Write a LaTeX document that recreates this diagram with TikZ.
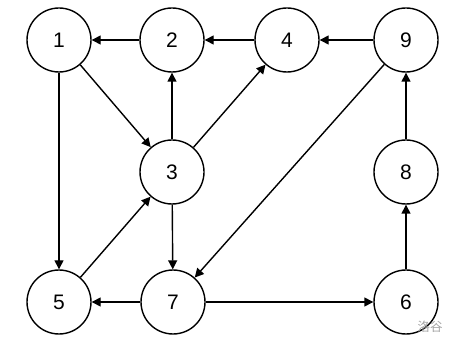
\documentclass[tikz,border=0pt]{standalone}
\usepackage{fontspec}
\setmainfont{Liberation Sans}
\newfontfamily\cjkfont{Noto Sans CJK SC}
\usepackage{xcolor}
\definecolor{graphink}{RGB}{0,0,0}
\definecolor{markgrey}{RGB}{165,165,165}
\usetikzlibrary{arrows.meta}
\tikzset{
  vertex/.style={draw=graphink,line width=1.4pt,circle,minimum size=64pt,inner sep=0pt,font=\fontsize{21}{21}\selectfont},
  arr/.style={-{Triangle[length=9pt,width=9pt]},line width=1.4pt,draw=graphink},
  wmark/.style={font=\cjkfont\fontsize{12.5}{12.5}\selectfont,text=markgrey},
}

\begin{document}
\begin{tikzpicture}[x=1pt,y=-1pt]
    \useasboundingbox (0,0) rectangle (458,347);
    \foreach \n/\x/\y in {1/59/40,2/172/40,4/287/40,9/406/40,3/172/172,8/406/172,5/59/302,7/173/302,6/406/302}{\node[vertex] (n\n) at (\x,\y) {\n};}
    \foreach \a/\b in {2/1,4/2,9/4,1/3,1/5,3/2,3/4,3/7,5/3,9/7,7/5,7/6,6/8,8/9}{\draw[arr] (n\a)--(n\b);}
    \node[wmark] (logo) at (430,327) {洛谷};
  \end{tikzpicture}
\end{document}
